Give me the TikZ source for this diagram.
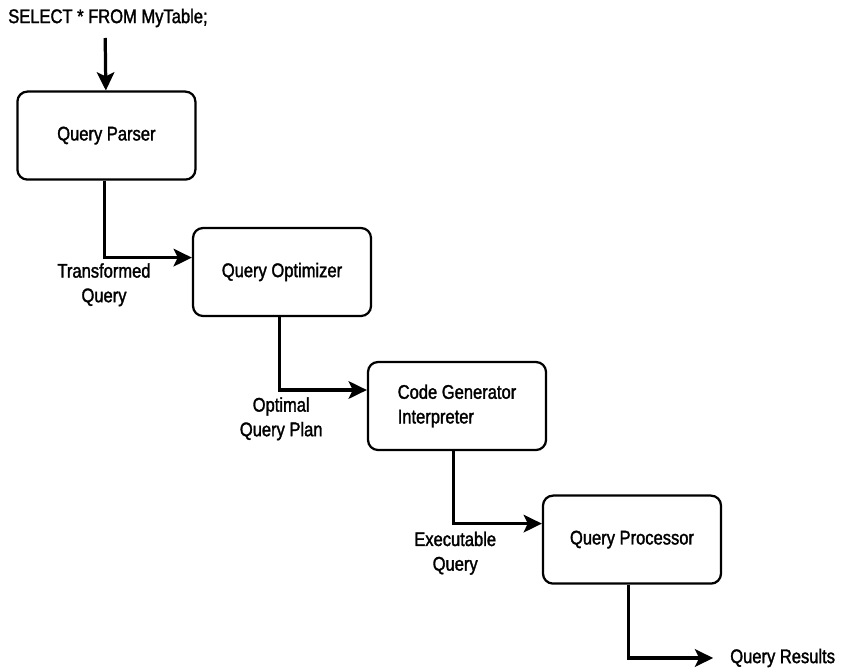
\documentclass[tikz,border=0pt]{standalone}
\usepackage{fontspec}
\setmainfont{Liberation Sans}[FakeStretch=0.84,FakeBold=1.6]
\usetikzlibrary{arrows.meta}

\begin{document}
\begin{tikzpicture}[auto,
    stage/.style ={rectangle, draw, line width=1.6pt, rounded corners=0.25cm,
                   minimum width=4.45cm, minimum height=2.2cm,
                   font=\fontsize{14pt}{17.5pt}\selectfont},
    caption/.style ={align=center, inner sep=0pt,
                   font=\fontsize{14pt}{17.5pt}\selectfont},
    flow/.style ={line width=2.3pt,
                   -{Stealth[length=13pt,width=12.5pt,inset=3pt]}}]
   \useasboundingbox (0,0) rectangle (21.05,-16.775);

   \node[caption,anchor=west] (sql)  at (0.2,-0.45)  {SELECT * FROM MyTable;};
   \coordinate (in) at (2.63,-0.95);

   \node[stage] (parser)  at (2.66,-3.39)  {Query Parser};
   \node[stage] (optimizer)  at (7.05,-6.8)  {Query Optimizer};
   \node[stage,align=left] (generator)  at (11.425,-10.15)  {Code Generator\\Interpreter};
   \node[stage] (processor)  at (15.8,-13.49)  {Query Processor};

   \node[caption] (transformed)  at (2.6,-7.12)  {Transformed\\Query};
   \node[caption] (plan)  at (7.03,-10.47)  {Optimal\\Query Plan};
   \node[caption] (executable)  at (11.38,-13.83)  {Executable\\Query};
   \node[caption,anchor=west] (results)  at (18.25,-16.45)  {Query Results};
   \coordinate (out) at (17.83,-16.45);

   \draw[flow] (in) to (parser);
   \draw[flow] ([xshift=-0.05cm]parser.south) |- ([yshift=0.36cm]optimizer.west);
   \draw[flow] ([xshift=-0.07cm]optimizer.south) |- ([yshift=0.4cm]generator.west);
   \draw[flow] ([xshift=-0.09cm]generator.south) |- ([yshift=0.4cm]processor.west);
   \draw[flow] ([xshift=-0.09cm]processor.south) |- (out);
 \end{tikzpicture}
\end{document}
